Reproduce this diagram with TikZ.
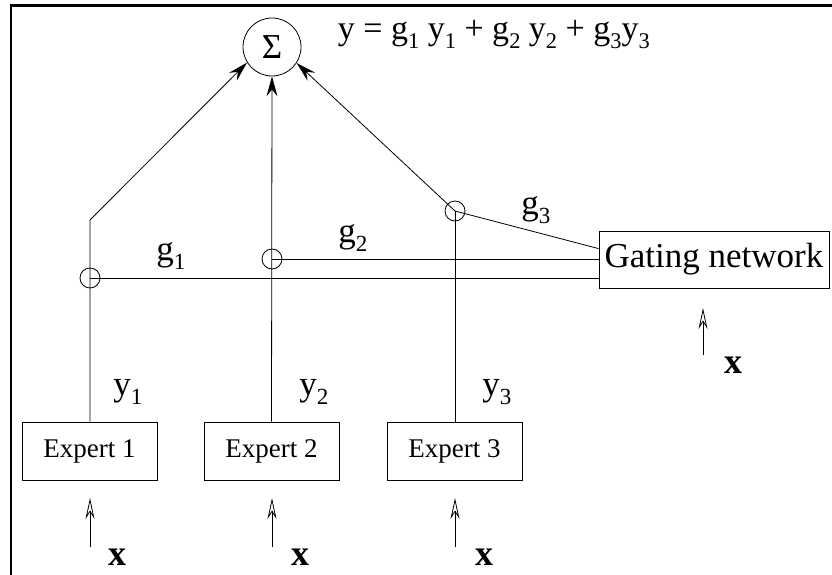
\documentclass[tikz,border=0pt]{standalone}
\usepackage{fontspec}
\usepackage{graphicx}
\setmainfont{Liberation Serif}
\usetikzlibrary{arrows.meta}
\newcommand\fs[1]{\fontsize{#1}{#1}\selectfont}
\newcommand\sbs[1]{\raisebox{-0.24em}{\scalebox{0.66}{#1}}}
\tikzset{
  box/.style={draw, line width=0.8pt, inner sep=0pt, rectangle},
  wire/.style={line width=0.8pt},
  junc/.style={draw, circle, line width=0.8pt, minimum size=20pt, inner sep=0pt},
  sumarrow/.style={wire, -{Stealth[length=20pt,width=11pt,inset=7pt]}},
  inarrow/.style={wire, -{Stealth[open,length=21pt,width=9pt,inset=7pt]}},
  lbl/.style={font=\fs{35}, inner sep=0pt},
  xlbl/.style={font=\fs{36}\bfseries, inner sep=0pt}
}
\begin{document}
\begin{tikzpicture}[x=1pt,y=-1pt]
\useasboundingbox (0,0) rectangle (832,575);
% frame (top and left only)
\draw[line width=2.6pt] (832,5.3) -- (11,5.3) -- (11,575);
% summation node
\node[draw, circle, line width=0.8pt, minimum size=58pt, inner sep=0pt, font=\fs{35}] (s) at (272,47) {Σ};
\node[anchor=base east, inner sep=0pt, font=\fs{34}] (eq) at (650,40)
  {y = g\sbs{1} y\sbs{1} + g\sbs{2} y\sbs{2} + g\sbs{3}y\sbs{3}};
% experts
\node[box, minimum width=135pt, minimum height=58pt, font=\fs{27}] (e1) at (89.5,451) {Expert 1};
\node[box, minimum width=135pt, minimum height=58pt, font=\fs{27}] (e2) at (271.5,451) {Expert 2};
\node[box, minimum width=135pt, minimum height=58pt, font=\fs{27}] (e3) at (454.5,451) {Expert 3};
% gating network
\node[box, minimum width=230pt, minimum height=57pt, font=\fs{35}] (g) at (714,259.5) {Gating network};
% junctions
\node[junc] (c1) at (90,278) {};
\node[junc] (c2) at (272,259) {};
\node[junc] (c3) at (455,211) {};
\coordinate (k1) at (90,220);
% expert outputs to sum
\draw[sumarrow] (e1.north -| c1) -- (k1) -- (s.212);
\draw[sumarrow] (e2.north) -- (s.south);
\draw[wire] (e3.north -| c3) -- (c3.center);
\draw[sumarrow] (c3.center) -- (s.-33);
% gating lines
\draw[wire] (c1.center) -- (c1.center -| g.west);
\draw[wire] (c2.center) -- (c2.center -| g.west);
\coordinate (g3end) at ([yshift=-18pt]g.north west);
\draw[wire] (c3.center) -- (g3end);
% labels
\node[lbl] (lg1) at (171,256) {g\sbs{1}};
\node[lbl] (lg2) at (353,238) {g\sbs{2}};
\node[lbl] (lg3) at (536,210) {g\sbs{3}};
\node[lbl] (ly1) at (128,392) {y\sbs{1}};
\node[lbl] (ly2) at (314,392) {y\sbs{2}};
\node[lbl] (ly3) at (497,392) {y\sbs{3}};
% inputs
\coordinate (i1) at (90,547);
\coordinate (i2) at (272,547);
\coordinate (i3) at (455,547);
\coordinate (ig) at (703,355);
\draw[inarrow] (i1) -- ++(0,-49);
\draw[inarrow] (i2) -- ++(0,-49);
\draw[inarrow] (i3) -- ++(0,-49);
\draw[inarrow] (ig) -- ++(0,-47);
\node[xlbl] (x1) at (117,557) {x};
\node[xlbl] (x2) at (300,557) {x};
\node[xlbl] (x3) at (484,557) {x};
\node[xlbl] (xg) at (733,365) {x};
\end{tikzpicture}
\end{document}
